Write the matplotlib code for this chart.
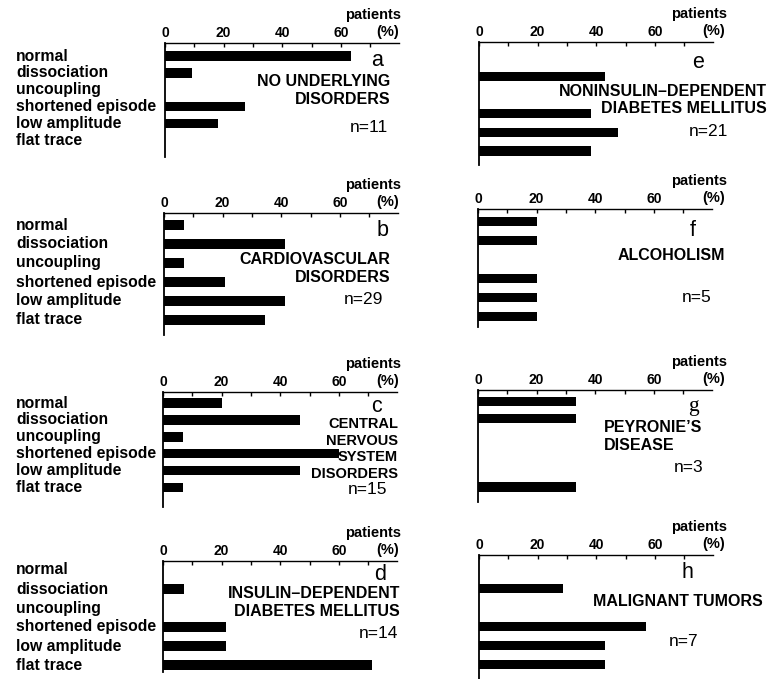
import matplotlib
matplotlib.use("Agg")
import matplotlib.pyplot as plt
from matplotlib import transforms

categories = ["normal", "dissociation", "uncoupling",
              "shortened episode", "low amplitude", "flat trace"]

letters = ["a", "b", "c", "d", "e", "f", "g", "h"]
groups = [
    ["NO UNDERLYING", "DISORDERS"],
    ["CARDIOVASCULAR", "DISORDERS"],
    ["CENTRAL", "NERVOUS", "SYSTEM", "DISORDERS"],
    ["INSULIN–DEPENDENT", "DIABETES MELLITUS"],
    ["NONINSULIN–DEPENDENT", "DIABETES MELLITUS"],
    ["ALCOHOLISM"],
    ["PEYRONIE’S", "DISEASE"],
    ["MALIGNANT TUMORS"],
]
n_patients = [11, 29, 15, 14, 21, 5, 3, 7]

# percent of patients per category (normal ... flat trace)
pct_a = [63.6, 9.1, 0, 27.3, 18.2, 0]
pct_b = [6.9, 41.4, 6.9, 20.7, 41.4, 34.5]
pct_c = [20.0, 46.7, 6.7, 60.0, 46.7, 6.7]
pct_d = [0, 7.1, 0, 21.4, 21.4, 71.4]
pct_e = [0, 42.9, 0, 38.1, 47.6, 38.1]
pct_f = [20.0, 20.0, 0, 20.0, 20.0, 20.0]
pct_g = [33.3, 33.3, 0, 0, 0, 33.3]
pct_h = [0, 28.6, 0, 57.1, 42.9, 42.9]
values = [pct_a, pct_b, pct_c, pct_d, pct_e, pct_f, pct_g, pct_h]

x_major = [0, 20, 40, 60]
x_minor = [10, 30, 50, 70]

W, H = 769, 679
BOLD = dict(family="Liberation Sans", fontweight="bold")
NARROW = ["Liberation Sans Narrow", "Liberation Sans"]

# panel geometry in pixels: left, top, bottom, first row centre, row step
geom = [
    (165, 43, 157, 56, 16.9),
    (164, 213, 335, 225, 19.0),
    (163, 392, 507, 403, 16.9),
    (163, 561, 672, 570, 19.0),
    (479, 42, 165, 57.6, 18.7),
    (478, 209, 327, 221.7, 19.0),
    (478, 390, 502, 401.3, 17.1),
    (479, 555, 679, 569.3, 19.0),
]
# text layout: letter (x, y), title lines (x, y0, dy, ha, size), n label (x right, y)
text_pos = [
    ((377, 61), (390, 82, 18, "right", 11.5), (388, 128)),
    ((383, 231), (390, 259, 18, "right", 11.5), (383, 300)),
    ((376, 406), (398, 424, 16.7, "right", 10.5), (387, 490)),
    ((380, 574), (400, 593, 19, "right", 11.5), (398, 633)),
    ((698, 62), (767, 91, 17.5, "right", 11.5), (728, 132)),
    ((693, 231), (725, 255, 18, "right", 11.5), (712, 298)),
    ((693, 407), (604, 427, 19, "left", 11.5), (703, 468)),
    ((687, 572), (763, 602, 18, "right", 11.5), (698, 642)),
]

fig = plt.figure(figsize=(W / 100, H / 100), dpi=100)


def ftext(x, y, s, **kw):
    fig.text(x / W, 1 - y / H, s, va="center", **kw)


scale = 2.93  # px per percent
for i, vals in enumerate(values):
    left, top, bottom, first, step = geom[i]
    right = left + 80 * scale
    ax = fig.add_axes([left / W, 1 - bottom / H, (right - left) / W, (bottom - top) / H])
    ax.barh(range(len(categories)), vals, height=9.5 / step, color="black")
    ax.set_xlim(0, 80)
    last = first + step * (len(categories) - 1)
    ax.set_ylim(len(categories) - 1 + (bottom - last) / step, -(first - top) / step)

    for s in ["right", "bottom"]:
        ax.spines[s].set_visible(False)
    ax.spines["top"].set_linewidth(1.0)
    ax.spines["left"].set_linewidth(1.3)
    ax.xaxis.tick_top()
    ax.set_xticks(x_major)
    ax.set_xticks(x_minor, minor=True)
    ax.set_xticklabels([str(v) for v in x_major], fontsize=10, **BOLD)
    ax.tick_params(axis="x", which="both", direction="in", length=3, width=1.0, pad=2)
    ax.set_yticks([])

    # category labels, left aligned, only for the left column
    if i < 4:
        tr = transforms.blended_transform_factory(fig.transFigure, ax.transData)
        for k, c in enumerate(categories):
            ax.text(16 / W, k, c, transform=tr, ha="left", va="center",
                    fontsize=11.3, clip_on=False, **BOLD)

    # axis unit label
    xr = 401 if i < 4 else 727
    ftext(xr, top - 28, "patients", ha="right", fontsize=10.5, **BOLD)
    ftext(xr - 2, top - 11, "(%)", ha="right", fontsize=10.5, **BOLD)

    (lx, ly), (tx, ty, tdy, tha, tfs), (nx, ny) = text_pos[i]
    fam = "Liberation Serif" if letters[i] == "g" else "Liberation Sans"
    ftext(lx, ly, letters[i], ha="center", fontsize=15.5, family=fam)
    for k, line in enumerate(groups[i]):
        ftext(tx, ty + k * tdy, line, ha=tha, fontsize=tfs, **BOLD)
    ftext(nx, ny, f"n={n_patients[i]}", ha="right", fontsize=12.5, family=NARROW)

fig.savefig("out.png", dpi=100)
